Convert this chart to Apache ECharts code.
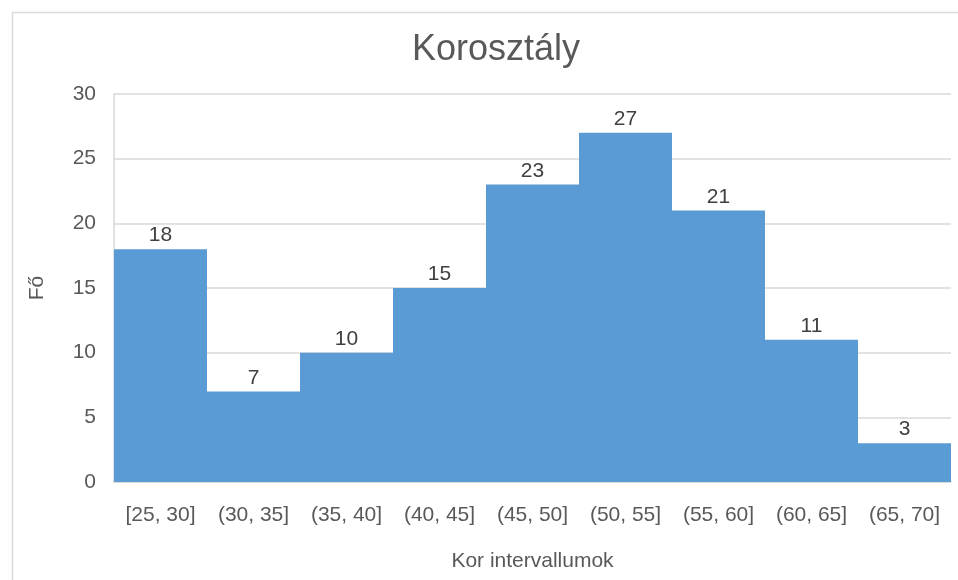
<html>
<head>
    <meta charset="utf-8">
</head>
<body style="margin:0">
    <script src="https://cdn.jsdelivr.net/npm/echarts@6/dist/echarts.min.js"></script>
    <div id="main" style="width: 958px;height: 580px"></div>
    <script>
var categories = ['[25, 30]', '(30, 35]', '(35, 40]', '(40, 45]', '(45, 50]', '(50, 55]', '(55, 60]', '(60, 65]', '(65, 70]'];
var counts = [18, 7, 10, 15, 23, 27, 21, 11, 3];

var myChart = echarts.init(document.getElementById('main'));

var option = {
    backgroundColor: '#fff',
    textStyle: { fontFamily: 'Liberation Sans, Arial, sans-serif' },
    graphic: [{
        type: 'rect',
        left: 10, top: 10,
        shape: { width: 960, height: 600 },
        style: { fill: 'none', stroke: '#d9d9d9', lineWidth: 1.5 },
        silent: true
    }],
    title: {
        text: 'Korosztály',
        left: 407,
        top: 27,
        textStyle: { fontSize: 36, fontWeight: 'normal', color: '#595959' }
    },
    grid: { left: 114, right: 7, top: 94, bottom: 98, containLabel: false },
    xAxis: {
        type: 'category',
        data: categories,
        name: 'Kor intervallumok',
        nameLocation: 'middle',
        nameGap: 69,
        nameTextStyle: { fontSize: 21, color: '#595959' },
        axisTick: { show: false },
        axisLine: { lineStyle: { color: '#d9d9d9', width: 1.5 } },
        axisLabel: { fontSize: 21, color: '#595959', margin: 23, interval: 0 }
    },
    yAxis: {
        type: 'value',
        min: 0, max: 30, interval: 5,
        name: 'Fő',
        nameLocation: 'middle',
        nameGap: 66,
        nameRotate: 90,
        nameTextStyle: { fontSize: 21, color: '#595959' },
        axisLine: { show: true, lineStyle: { color: '#d9d9d9', width: 1.5 } },
        axisTick: { show: false },
        axisLabel: { fontSize: 21, color: '#595959', margin: 18 },
        splitLine: { lineStyle: { color: '#d9d9d9', width: 1.5 } }
    },
    series: [{
        type: 'bar',
        data: counts,
        barCategoryGap: '0%',
        itemStyle: { color: '#5b9bd5' },
        label: { show: true, position: 'top', distance: 3, fontSize: 21, color: '#404040' },
        animation: false
    }]
};

myChart.setOption(option);
    </script>
</body>
</html>
